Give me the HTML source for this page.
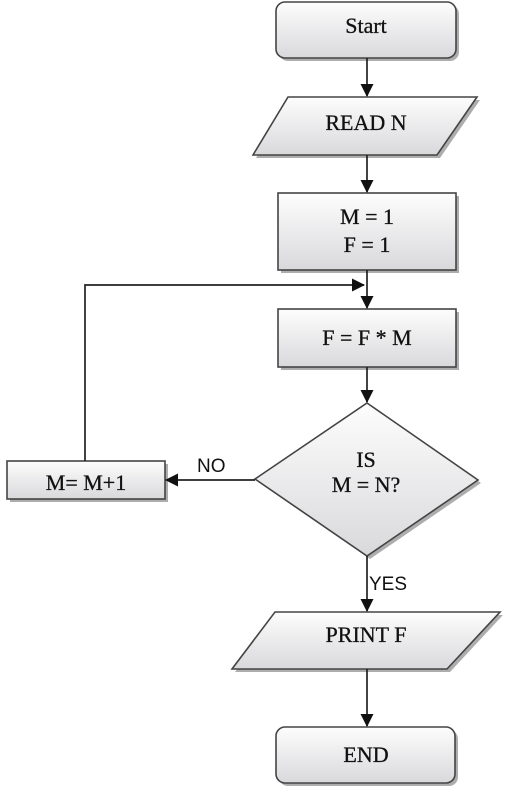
<!DOCTYPE html>
<html><head><style>html,body{margin:0;padding:0;background:#fff;}</style></head>
<body>
<svg width="507" height="799" xmlns="http://www.w3.org/2000/svg" font-family="Liberation Serif, serif">
<defs>
<linearGradient id="g" x1="0" y1="0" x2="0" y2="1"><stop offset="0" stop-color="#fdfdfd"/><stop offset="1" stop-color="#d9d9dc"/></linearGradient>
<marker id="a" markerWidth="13" markerHeight="13" refX="12" refY="6.5" orient="auto" markerUnits="userSpaceOnUse"><path d="M0,0 L13,6.5 L0,13 z" fill="#111"/></marker>
</defs>
<g fill="#999" opacity="0.8">
<rect x="279" y="5" width="180" height="56" rx="9"/>
<polygon points="291,100 480,100 440,158 256,158"/>
<rect x="281" y="196" width="178" height="77"/>
<rect x="281" y="312" width="178" height="58"/>
<polygon points="370,406 481,483 370,559 258,482"/>
<rect x="10" y="464" width="158" height="38"/>
<polygon points="278,615 503,615 450,672 235,672"/>
<rect x="279" y="730" width="179" height="56" rx="9"/>
</g>
<g fill="url(#g)" stroke="#444" stroke-width="1.6">
<rect x="276" y="2" width="180" height="56" rx="9"/>
<polygon points="288,97 477,97 437,155 253,155"/>
<rect x="278" y="193" width="178" height="77"/>
<rect x="278" y="309" width="178" height="58"/>
<polygon points="367,403 478,480 367,556 255,479"/>
<rect x="7" y="461" width="158" height="38"/>
<polygon points="275,612 500,612 447,669 232,669"/>
<rect x="276" y="727" width="179" height="56" rx="9"/>
</g>
<g stroke="#222" stroke-width="1.7" fill="none">
<line x1="367" y1="58" x2="367" y2="96" marker-end="url(#a)"/>
<line x1="367" y1="155" x2="367" y2="192" marker-end="url(#a)"/>
<line x1="367" y1="270" x2="367" y2="308" marker-end="url(#a)"/>
<line x1="367" y1="367" x2="367" y2="402" marker-end="url(#a)"/>
<line x1="367" y1="556" x2="367" y2="611" marker-end="url(#a)"/>
<line x1="367" y1="669" x2="367" y2="726" marker-end="url(#a)"/>
<line x1="255" y1="480" x2="166" y2="480" marker-end="url(#a)"/>
<polyline points="85,461 85,285 364,285" marker-end="url(#a)"/>
</g>
<g font-size="22" text-anchor="middle" fill="#111" stroke="#111" stroke-width="0.3">
<text x="366" y="33">Start</text>
<text x="366" y="130">READ N</text>
<text x="367" y="224">M = 1</text>
<text x="367" y="252">F = 1</text>
<text x="367" y="345">F = F * M</text>
<text x="366" y="467">IS</text>
<text x="366" y="492">M = N?</text>
<text x="86" y="490">M= M+1</text>
<text x="366" y="642">PRINT F</text>
<text x="366" y="762">END</text>
</g>
<g font-family="Liberation Sans, sans-serif" font-size="19" fill="#111">
<text x="197" y="472">NO</text>
<text x="369" y="590">YES</text>
</g>
</svg>
</body></html>
